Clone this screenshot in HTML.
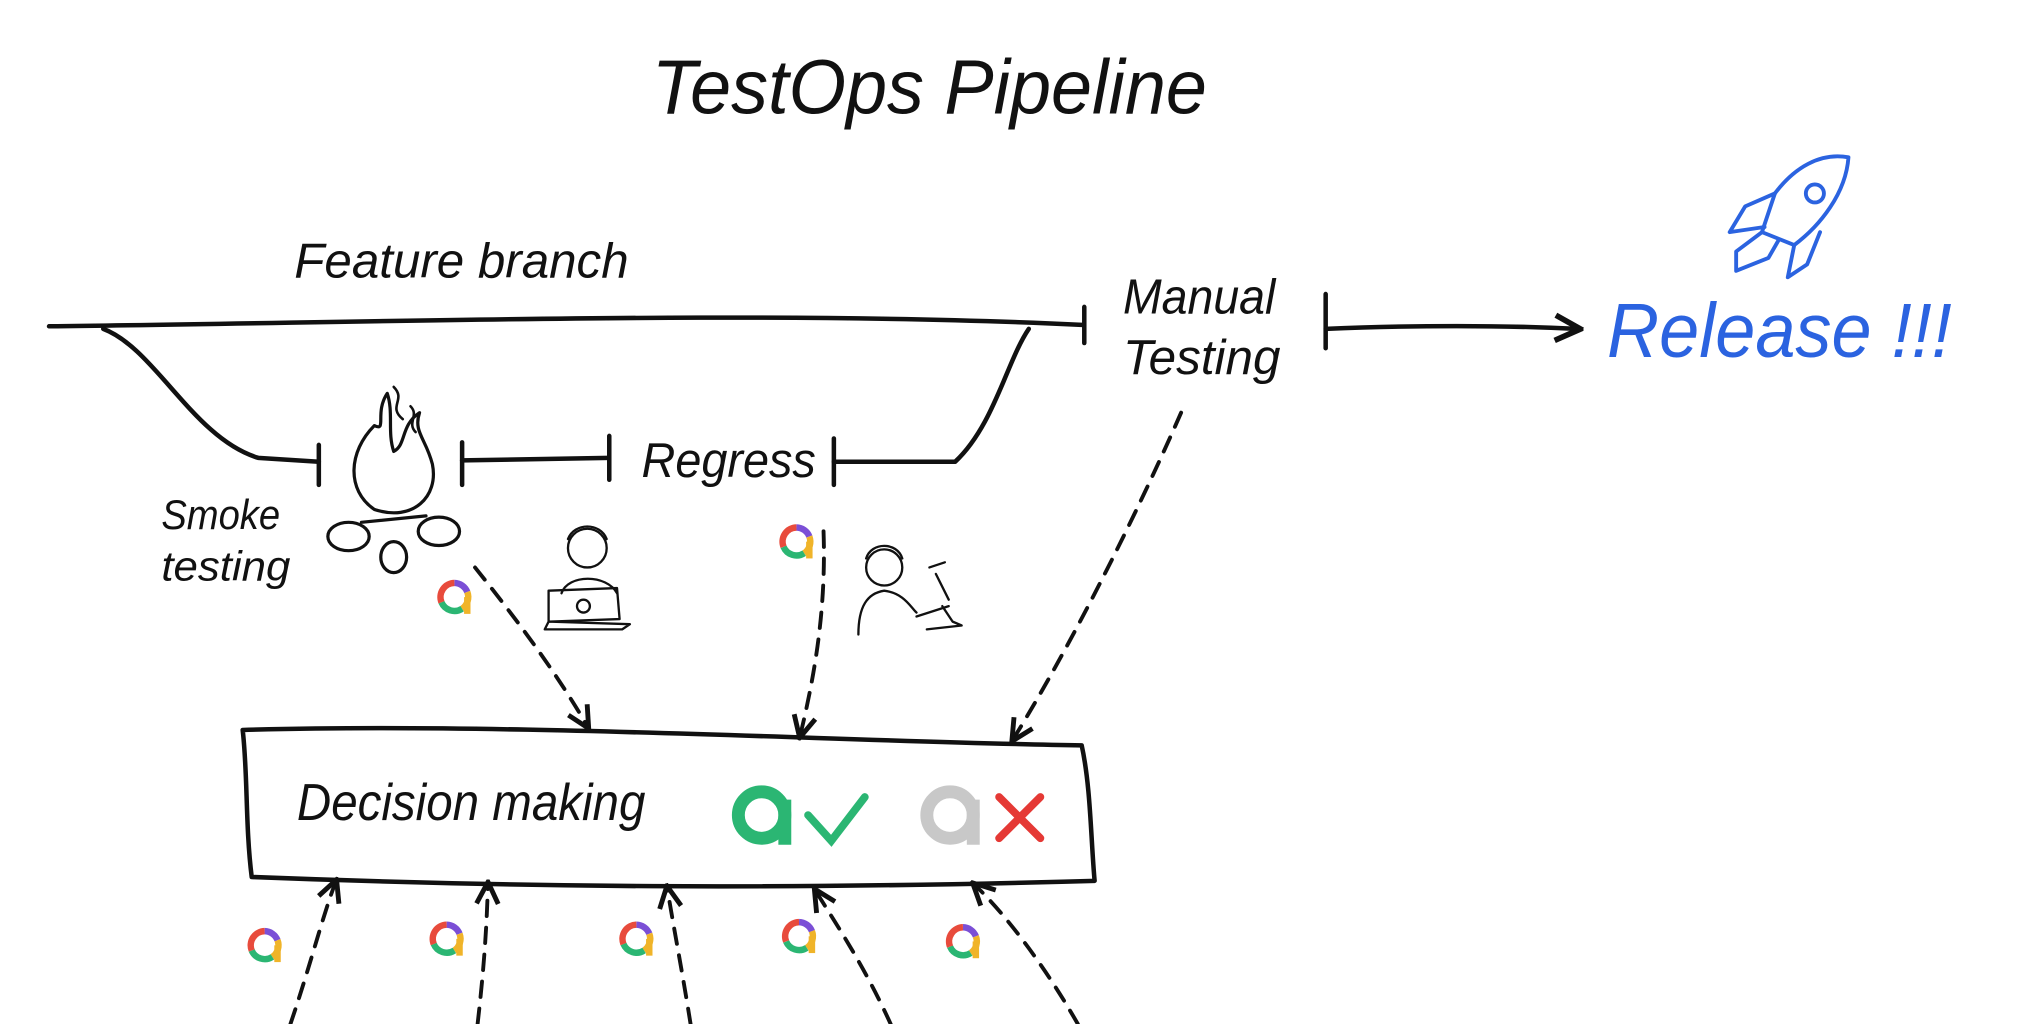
<!DOCTYPE html>
<html><head><meta charset="utf-8"><style>
html,body{margin:0;padding:0;background:#fff;}
svg{display:block}
text{font-family:"Liberation Sans",sans-serif;font-style:italic;fill:#111}
</style></head><body>
<svg width="2024" height="1024" viewBox="0 0 1568 794" preserveAspectRatio="none" xmlns="http://www.w3.org/2000/svg">
<defs>
<marker id="ah" viewBox="0 0 10 10" refX="8" refY="5" markerWidth="7" markerHeight="7" orient="auto"><path d="M1,1 L9,5 L1,9" fill="none" stroke="#111" stroke-width="1.8"/></marker>
<g id="al">
<path d="M0,-11 A11,11 0 0 1 10,-4" stroke="#7b4fd6" stroke-width="5" fill="none"/>
<path d="M10,-4 A11,11 0 0 1 6,9" stroke="#f0b429" stroke-width="5" fill="none"/>
<path d="M6,9 A11,11 0 0 1 -10,4" stroke="#2bb673" stroke-width="5" fill="none"/>
<path d="M-10,4 A11,11 0 0 1 0,-11" stroke="#e84b3c" stroke-width="5" fill="none"/>
<path d="M10,0 L10,13" stroke="#f0b429" stroke-width="5"/>
</g>
</defs>
<g stroke="#111" stroke-width="3.5" fill="none" stroke-linecap="round" stroke-linejoin="round">
<path d="M38,253 C300,250 600,240 840,252"/>
<path d="M840,238 L840,266"/>
<path d="M1027,228 L1027,270"/>
<path d="M1027,255 C1100,252 1160,252 1222,255" marker-end="url(#ah)"/>
<path d="M80,255 C120,270 150,340 200,355 L247,358"/>
<path d="M247,345 L247,376"/>
<path d="M358,343 L358,376"/>
<path d="M358,357 L472,355"/>
<path d="M472,338 L472,372"/>
<path d="M646,340 L646,376"/>
<path d="M646,358 L740,358 C770,330 780,280 797,255"/>
<path d="M290,330 C270,350 268,380 290,395 C320,405 340,385 335,360 C330,340 320,335 325,320 C310,330 315,345 305,350 C300,335 305,320 300,305 C290,320 300,335 290,330Z" stroke-width="2.5"/>
<path d="M305,300 C315,310 300,315 312,325 M318,315 C325,322 315,328 322,335" stroke-width="2"/>
<ellipse cx="270" cy="416" rx="16" ry="11" stroke-width="2.5"/>
<ellipse cx="340" cy="412" rx="16" ry="11" stroke-width="2.5"/>
<ellipse cx="305" cy="432" rx="10" ry="12" stroke-width="2.5"/>
<path d="M280,405 L330,400" stroke-width="2.5"/>
<path d="M188,566 C400,560 650,575 838,578 C845,610 845,650 848,683 C600,690 400,688 195,680 C190,640 192,600 188,566Z"/>
<g stroke-dasharray="12,9" stroke-width="3">
<path d="M368,440 C400,480 430,520 455,563" marker-end="url(#ah)"/>
<path d="M638,412 C640,470 632,520 620,570" marker-end="url(#ah)"/>
<path d="M915,320 C880,400 830,500 785,573" marker-end="url(#ah)"/>
<path d="M225,794 C240,750 250,710 260,684" marker-end="url(#ah)"/>
<path d="M370,794 C375,750 377,720 378,686" marker-end="url(#ah)"/>
<path d="M535,794 C528,750 522,720 517,689" marker-end="url(#ah)"/>
<path d="M690,794 C670,750 650,720 632,691" marker-end="url(#ah)"/>
<path d="M835,794 C810,750 780,710 755,686" marker-end="url(#ah)"/>
</g>
<g stroke-width="1.8">
<circle cx="455" cy="425" r="15"/>
<path d="M440,418 C445,405 465,405 470,418"/>
<path d="M435,460 C440,445 470,445 478,460"/>
<path d="M425,458 L478,456 L480,480 L425,482Z M425,482 L488,484 L482,488 L422,488Z"/>
<circle cx="452" cy="470" r="5"/>
</g>
<g stroke-width="1.8">
<circle cx="685" cy="440" r="14"/>
<path d="M671,433 C675,420 695,420 699,433"/>
<path d="M665,492 C665,470 672,460 685,458 C700,460 705,470 710,475"/>
<path d="M725,445 L735,465 M720,440 L732,436 M730,470 L738,482 L745,485 L718,488 M710,478 L735,470"/>
</g>
<g stroke="#2b63e0" stroke-width="3">
<path d="M1432,122 C1410,118 1390,130 1375,150 L1365,180 L1390,190 C1410,175 1430,150 1432,122Z"/>
<circle cx="1406" cy="150" r="7"/>
<path d="M1375,150 L1352,160 L1340,180 L1367,176"/>
<path d="M1390,190 L1385,215 L1400,205 L1410,180"/>
<path d="M1365,180 L1345,195 L1345,210 L1370,200 L1378,186"/>
</g>
</g>
<g fill="none" stroke-width="10">
<circle cx="590" cy="632" r="18" stroke="#2bb673"/><path d="M608,620 L608,655" stroke="#2bb673"/>
<circle cx="736" cy="632" r="18" stroke="#c8c8c8"/><path d="M754,620 L754,655" stroke="#c8c8c8"/>
</g>
<path d="M626,632 L644,652 L670,618" stroke="#2bb673" stroke-width="6" fill="none" stroke-linecap="round"/>
<path d="M774,618 L806,650 M806,618 L774,650" stroke="#e53935" stroke-width="6" fill="none" stroke-linecap="round"/>
<g fill="none">
<use href="#al" x="352" y="463"/><use href="#al" x="617" y="420"/><use href="#al" x="205" y="733"/>
<use href="#al" x="346" y="728"/><use href="#al" x="493" y="728"/><use href="#al" x="619" y="726"/><use href="#al" x="746" y="730"/>
</g>
<text x="505" y="88" font-size="60" textLength="430" lengthAdjust="spacingAndGlyphs">TestOps  Pipeline</text>
<text x="228" y="215" font-size="38" textLength="259" lengthAdjust="spacingAndGlyphs">Feature branch</text>
<text x="870" y="243" font-size="38" textLength="118" lengthAdjust="spacingAndGlyphs">Manual</text>
<text x="870" y="290" font-size="38" textLength="122" lengthAdjust="spacingAndGlyphs">Testing</text>
<text x="1245" y="277" font-size="60" textLength="267" lengthAdjust="spacingAndGlyphs" style="fill:#2b63e0">Release !!!</text>
<text x="497" y="370" font-size="38" textLength="135" lengthAdjust="spacingAndGlyphs">Regress</text>
<text x="125" y="410" font-size="32" textLength="92" lengthAdjust="spacingAndGlyphs">Smoke</text>
<text x="125" y="450" font-size="32" textLength="100" lengthAdjust="spacingAndGlyphs">testing</text>
<text x="230" y="636" font-size="40" textLength="270" lengthAdjust="spacingAndGlyphs">Decision making</text>
</svg>
</body></html>
